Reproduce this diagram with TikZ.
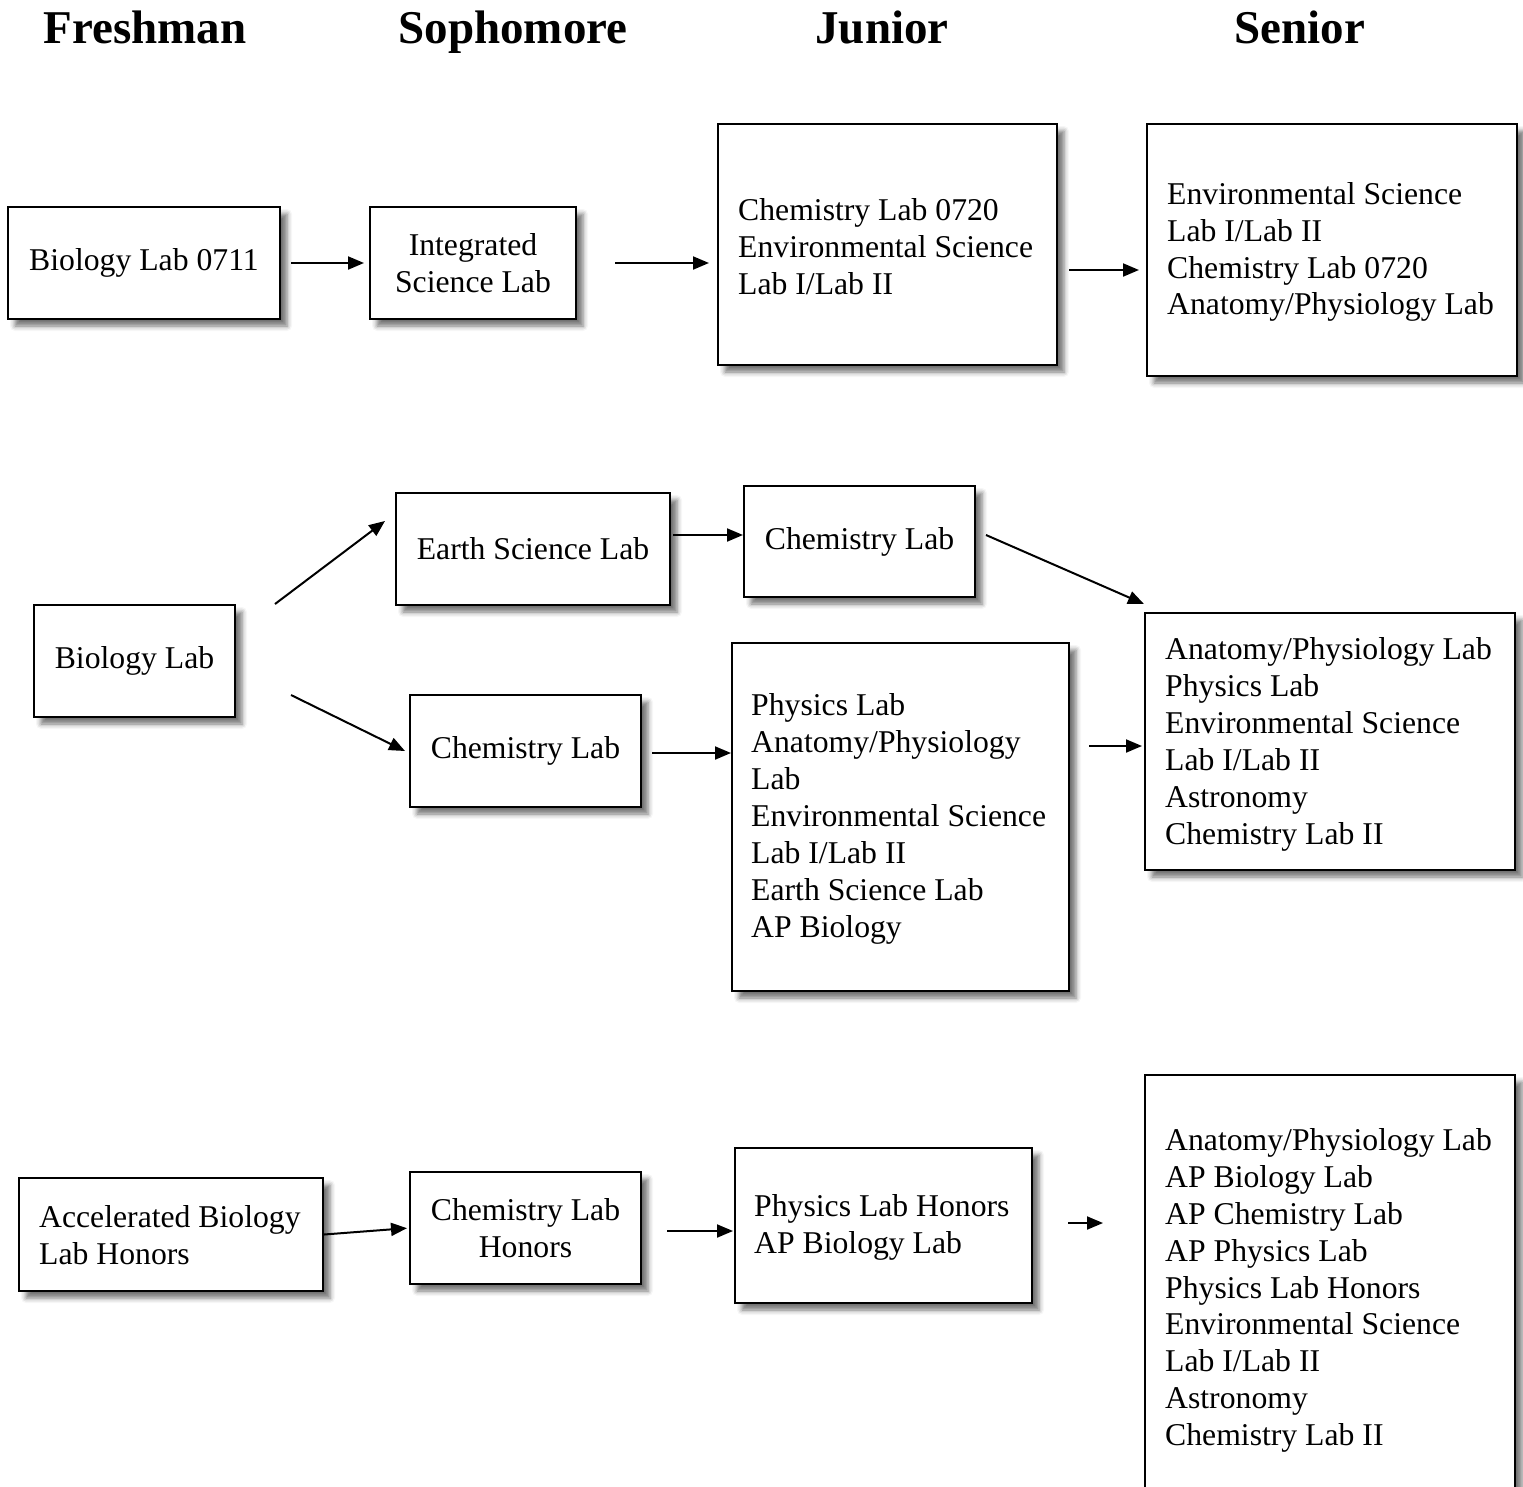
\documentclass[tikz,border=0pt]{standalone}
\usepackage{fontspec}
\setmainfont{Liberation Serif}
\usetikzlibrary{arrows.meta,shadows.blur}
\newcommand\mybody{\fontsize{31.7}{36.9}\selectfont}
\begin{document}
\begin{tikzpicture}[x=1pt,y=-1pt,
  box/.style={draw, line width=2pt, fill=white, rectangle, inner sep=0pt, font=\mybody, align=center,
    blur shadow={shadow xshift=7pt, shadow yshift=-7pt, shadow blur radius=5pt, shadow opacity=55}},
  txt/.style={inner sep=0pt, font=\mybody, align=left, anchor=west},
  arr/.style={line width=2pt, -{Triangle[length=16pt,width=13pt]}},
  head/.style={font=\fontsize{47}{56}\selectfont\bfseries, anchor=base, inner sep=0pt}]
\useasboundingbox (0,0) rectangle (1523,1486);
% headings
\node[head] (h1) at (145,43) {Freshman};
\node[head] (h2) at (513,43) {Sophomore};
\node[head] (h3) at (882,43) {Junior};
\node[head] (h4) at (1300,43) {Senior};
% row 1
\node[box, minimum width=272, minimum height=112] (a1) at (144,263) {Biology Lab 0711};
\node[box, minimum width=206, minimum height=112] (a2) at (473,263) {Integrated\\Science Lab};
\node[box, minimum width=339, minimum height=241] (a3) at (887.5,244.5) {};
\node[txt] (a3t) at ([xshift=21pt,yshift=-2pt]a3.west) {Chemistry Lab 0720\\Environmental Science\\Lab I/Lab II};
\node[box, minimum width=370, minimum height=252] (a4) at (1332,250) {};
\node[txt] (a4t) at ([xshift=21pt,yshift=-2pt]a4.west) {Environmental Science\\Lab I/Lab II\\Chemistry Lab 0720\\Anatomy/Physiology Lab};
\coordinate (r1) at (0,270);
\draw[arr, shorten <=10pt, shorten >=5pt] (a1.east) -- (a2.west);
\draw[arr, shorten <=38pt, shorten >=8pt] (a2.east) -- (a3.west |- a2.east);
\draw[arr, shorten <=11pt, shorten >=7pt] (a3.east |- r1) -- (a4.west |- r1);
% row 2
\node[box, minimum width=201, minimum height=112] (b1) at (134.5,661) {Biology Lab};
\node[box, minimum width=274, minimum height=112] (b2) at (533,549) {Earth Science Lab};
\node[box, minimum width=231, minimum height=111] (b3) at (859.5,541.5) {Chemistry Lab};
\node[box, minimum width=231, minimum height=112] (b4) at (525.5,751) {Chemistry Lab};
\node[box, minimum width=337, minimum height=348] (b5) at (900.5,817) {};
\node[txt] (b5t) at ([xshift=20pt,yshift=-2pt]b5.west) {Physics Lab\\Anatomy/Physiology\\Lab\\Environmental Science\\Lab I/Lab II\\Earth Science Lab\\AP Biology};
\node[box, minimum width=370, minimum height=257] (b6) at (1330,741.5) {};
\node[txt] (b6t) at ([xshift=21pt,yshift=-3pt]b6.west) {Anatomy/Physiology Lab\\Physics Lab\\Environmental Science\\Lab I/Lab II\\Astronomy\\Chemistry Lab II};
\draw[arr] ([xshift=39pt]b1.north east) -- ([xshift=-10pt,yshift=28pt]b2.west);
\draw[arr] ([xshift=55pt,yshift=-34pt]b1.east) -- ([xshift=-4pt]b4.west);
\draw[arr] ([xshift=2pt,yshift=14pt]b2.east) -- ([yshift=14pt]b2.east -| b3.west);
\draw[arr] ([xshift=10pt,yshift=6.5pt]b3.east) -- ([yshift=8pt]b6.north west);
\draw[arr, shorten <=10pt] ([yshift=-2pt]b4.east) -- ([yshift=-2pt]b4.east -| b5.west);
\coordinate (r2) at (0,746);
\draw[arr, shorten <=19pt, shorten >=2pt] (b5.east |- r2) -- (b6.west |- r2);
% row 3
\node[box, minimum width=304, minimum height=113] (c1) at (171,1234.5) {};
\node[txt] (c1t) at ([xshift=21pt,yshift=-1pt]c1.west) {Accelerated Biology\\Lab Honors};
\node[box, minimum width=231, minimum height=112] (c2) at (525.5,1228) {Chemistry Lab\\Honors};
\node[box, minimum width=297, minimum height=155] (c3) at (883.5,1225.5) {};
\node[txt] (c3t) at ([xshift=20pt,yshift=-2pt]c3.west) {Physics Lab Honors\\AP Biology Lab};
\node[box, minimum width=370, minimum height=427] (c4) at (1330,1288.5) {};
\node[txt] (c4t) at ([xshift=21pt,yshift=-2pt]c4.west) {Anatomy/Physiology Lab\\AP Biology Lab\\AP Chemistry Lab\\AP Physics Lab\\Physics Lab Honors\\Environmental Science\\Lab I/Lab II\\Astronomy\\Chemistry Lab II};
\draw[arr, shorten >=2pt] (c1.east) -- (c2.west);
\draw[arr, shorten <=25pt, shorten >=1pt] ([yshift=-3pt]c2.east) -- ([yshift=-3pt]c2.east -| c3.west);
\coordinate (s1) at (1068,1223);
\coordinate (s2) at (1103,1223);
\draw[arr] (s1) -- (s2);
\end{tikzpicture}
\end{document}
